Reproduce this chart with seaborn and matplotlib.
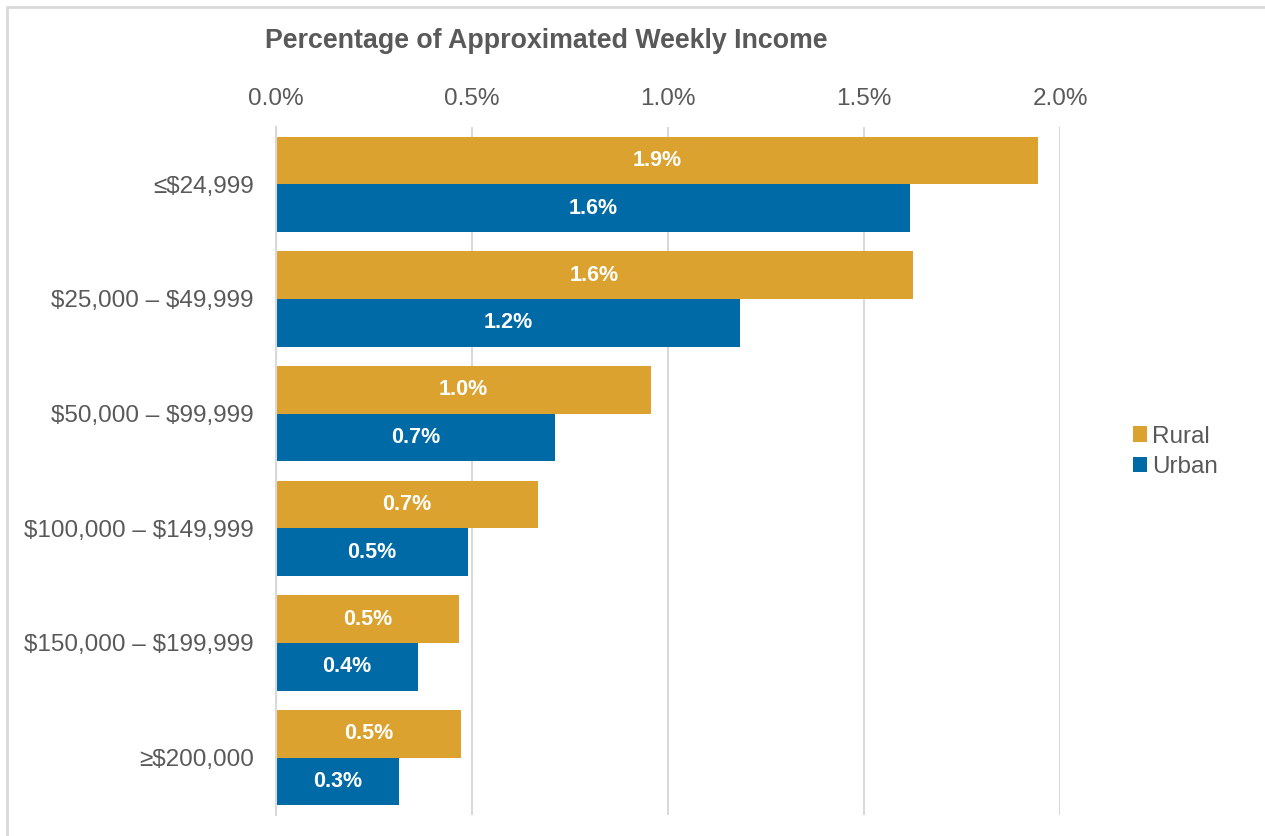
import matplotlib
matplotlib.use("Agg")
import matplotlib.pyplot as plt
from matplotlib.patches import Rectangle
import seaborn as sns
import pandas as pd

categories = ["≤$24,999", "$25,000 – $49,999", "$50,000 – $99,999",
              "$100,000 – $149,999", "$150,000 – $199,999", "≥$200,000"]
rural = [1.944, 1.625, 0.957, 0.668, 0.467, 0.472]
urban = [1.617, 1.184, 0.712, 0.490, 0.362, 0.314]
series = ["Rural", "Urban"]
x_ticks = [0.0, 0.5, 1.0, 1.5, 2.0]
title = "Percentage of Approximated Weekly Income"

colors = {"Rural": "#DBA22F", "Urban": "#006AA6"}
text_color = "#595959"
grid_color = "#D9D9D9"

df = pd.DataFrame({
    "Income": categories * 2,
    "Value": rural + urban,
    "Area": ["Rural"] * len(categories) + ["Urban"] * len(categories),
})

sns.set_theme(style="white")
plt.rcParams["font.family"] = ["Liberation Sans", "DejaVu Sans"]

fig = plt.figure(figsize=(12.65, 8.36), dpi=100)
ax = fig.add_axes([276/1265, 1 - 815/836, (1060 - 276)/1265, (815 - 127)/836])

sns.barplot(data=df, y="Income", x="Value", hue="Area", hue_order=series,
            order=categories, palette=colors, orient="h", width=0.83,
            gap=0, saturation=1, ax=ax, legend=True, linewidth=0)

for cont in ax.containers:
    ax.bar_label(cont, labels=[f"{v:.1f}%" for v in cont.datavalues],
                 label_type="center", color="white", fontweight="bold",
                 fontsize=15.5)

ax.set_xlim(0, 2.0)
ax.set_ylim(len(categories) - 0.5, -0.5)
ax.set_xticks(x_ticks)
ax.set_xticklabels([f"{t:.1f}%" for t in x_ticks])
ax.set_yticks(range(len(categories)))
ax.set_yticklabels([c.replace("$", r"\$") for c in categories])
ax.xaxis.tick_top()
ax.tick_params(axis="x", length=0, pad=12, labelsize=17.5, labelcolor=text_color)
ax.tick_params(axis="y", length=0, pad=16, labelsize=17.5, labelcolor=text_color)
ax.set_xlabel("")
ax.set_ylabel("")
ax.grid(axis="x", color=grid_color, linewidth=1.5)
ax.grid(axis="y", visible=False)
ax.set_axisbelow(True)
for s in ["top", "right", "bottom"]:
    ax.spines[s].set_visible(False)
ax.spines["left"].set_color(grid_color)
ax.spines["left"].set_linewidth(1.5)

handles, labels = ax.get_legend_handles_labels()
ax.legend(handles, labels, loc="center left", bbox_to_anchor=(1111/1265, 1 - 452/836),
          bbox_transform=fig.transFigure, frameon=False, fontsize=17.5,
          handlelength=0.6, handleheight=0.6, handletextpad=0.2,
          labelspacing=0.35, labelcolor=text_color)

fig.text(265/1265, 1 - 41/836, title, ha="left", va="center",
         fontsize=19.3, fontweight="bold", color=text_color)

fig.patches.append(Rectangle((7/1265, -0.05), 1.2, (836 - 7)/836 + 0.05,
                             transform=fig.transFigure, fill=False,
                             edgecolor=grid_color, linewidth=2))

fig.savefig("out.png", dpi=100, facecolor="white")
